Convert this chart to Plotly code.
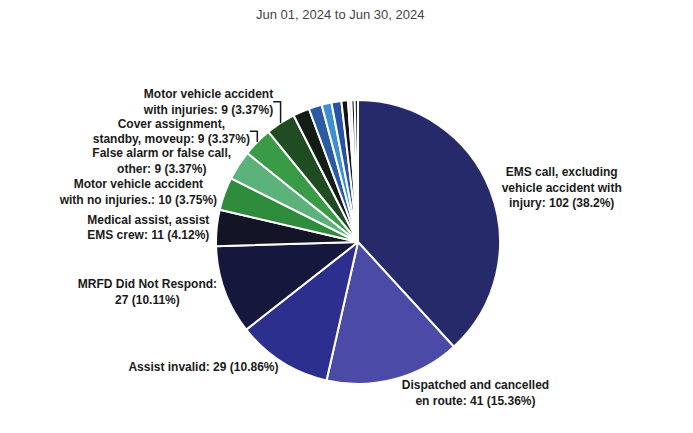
import plotly.graph_objects as go

# --- DATA ---
categories = [
    "EMS call, excluding vehicle accident with injury",
    "Dispatched and cancelled en route",
    "Assist invalid",
    "MRFD Did Not Respond",
    "Medical assist, assist EMS crew",
    "Motor vehicle accident with no injuries.",
    "False alarm or false call, other",
    "Cover assignment, standby, moveup",
    "Motor vehicle accident with injuries",
    "Other 1", "Other 2", "Other 3", "Other 4",
    "Other 5", "Other 6", "Other 7", "Other 8",
]
counts = [102, 41, 29, 27, 11, 10, 9, 9, 9, 5, 4, 3, 3, 2, 1, 1, 1]
pct_labels = ["38.2%", "15.36%", "10.86%", "10.11%", "4.12%", "3.75%",
              "3.37%", "3.37%", "3.37%", "", "", "", "", "", "", "", ""]
# label text as wrapped on the chart
wrapped = [
    "EMS call, excluding<br>vehicle accident with<br>injury",
    "Dispatched and cancelled<br>en route",
    "Assist invalid",
    "MRFD Did Not Respond:<br>",
    "Medical assist, assist<br>EMS crew",
    "Motor vehicle accident<br>with no injuries.",
    "False alarm or false call,<br>other",
    "Cover assignment,<br>standby, moveup",
    "Motor vehicle accident<br>with injuries",
    "", "", "", "", "", "", "", "",
]
colors = ["#262a6b", "#4b4aa6", "#2d2f8f", "#16173d", "#131426",
          "#2f8c3c", "#5bb27a", "#3a9b47", "#1f4c22",
          "#141c16", "#2c5ba6", "#3d8fd2", "#2653a3", "#121318",
          "#e8e8e8", "#15161c", "#1d2150"]

texts = []
for w, c, p in zip(wrapped, counts, pct_labels):
    if not p:
        texts.append("")
    elif w.endswith("<br>"):
        texts.append(f"{w}{c} ({p})")
    else:
        texts.append(f"{w}: {c} ({p})")

fig = go.Figure(go.Pie(
    labels=categories,
    values=counts,
    text=texts,
    textinfo="text",
    textposition="outside",
    automargin=False,
    sort=False,
    direction="clockwise",
    rotation=0,
    marker=dict(colors=colors, line=dict(color="white", width=2)),
    outsidetextfont=dict(family="Liberation Sans, Arial", size=12,
                         color="#1a1a1a", weight="bold"),
    domain=dict(x=[0, 1], y=[0, 1]),
    showlegend=False,
    hoverinfo="label+value+percent",
))

fig.update_layout(
    width=693, height=433,
    margin=dict(l=7, r=0, t=92, b=57, autoexpand=False),
    paper_bgcolor="white",
    font=dict(family="Liberation Sans, Arial", color="#222222"),
    annotations=[dict(
        text="Jun 01, 2024 to Jun 30, 2024",
        xref="paper", yref="paper", x=0.474, y=1.0, yanchor="middle", yshift=86,
        showarrow=False, font=dict(size=13, color="#444444"),
    )],
)

fig.write_html("out.html")
